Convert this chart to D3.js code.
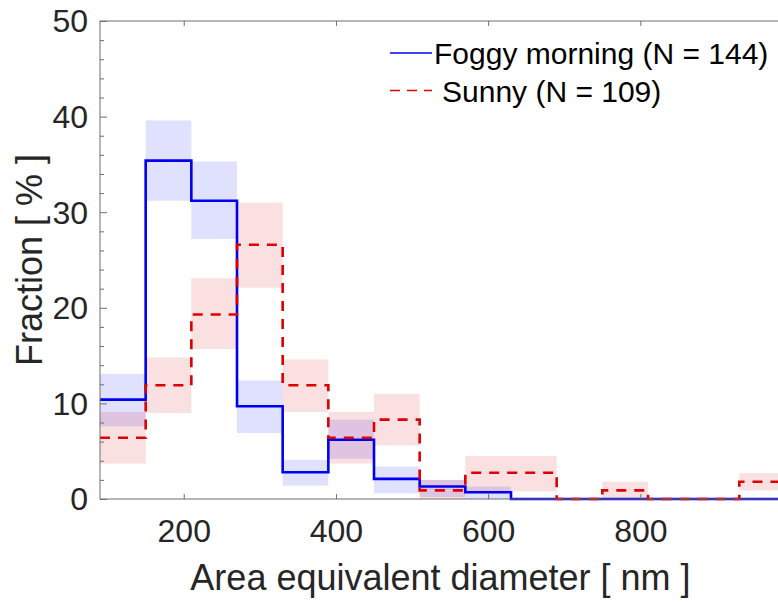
<!DOCTYPE html>
<html>
<head>
<meta charset="utf-8">
<script src="https://cdn.jsdelivr.net/npm/d3@7"></script>
<style>
	body { margin: 0; background: #fff; }
	svg { display: block; font-family: "Liberation Sans", Arial, sans-serif; }
	.axis text { fill: #262626; font-size: 32px; }
	.axis path, .axis line { stroke: #6e6e6e; stroke-width: 1; }
</style>
</head>
<body>
<svg id="chart" width="778" height="602"></svg>
<script>
// bin edges (nm), 60 nm wide
var binEdges = [90, 150, 210, 270, 330, 390, 450, 510, 570, 630, 690, 750, 810, 870, 930, 990];

// Foggy morning (N = 144), fraction in %
var foggy = [10.4, 35.4, 31.2, 9.7, 2.8, 6.2, 2.1, 1.3, 0.7, 0, 0, 0, 0, 0, 0];
var foggyLow = [7.6, 31.2, 27.2, 6.9, 1.4, 4.2, 0.6, 0.2, 0, 0, 0, 0, 0, 0, 0];
var foggyHigh = [13.1, 39.6, 35.3, 12.4, 4.1, 8.3, 3.4, 2.0, 1.3, 0, 0, 0, 0, 0, 0];

// Sunny (N = 109), fraction in %
var sunny = [6.4, 11.9, 19.3, 26.6, 11.9, 6.4, 8.3, 0.9, 2.75, 2.75, 0, 0.9, 0, 0, 1.8];
var sunnyLow = [3.7, 9.0, 15.7, 22.1, 9.1, 3.7, 5.6, 0, 0.8, 0.8, 0, 0, 0, 0, 0.9];
var sunnyHigh = [9.1, 14.8, 23.1, 31.0, 14.6, 9.1, 11.0, 2.0, 4.5, 4.5, 0, 1.8, 0, 0, 2.7];

var xTicks = [200, 400, 600, 800];
var yTicks = [0, 10, 20, 30, 40, 50];
var yMinorTicks = d3.range(0, 51, 2).filter(function(d) { return d % 10 !== 0; });

var legendLabels = ['Foggy morning (N = 144)', 'Sunny (N = 109)'];

var margin = {left: 100, top: 21, right: 785, bottom: 499};
var blue = '#0000f0', red = '#dd0000';

var svg = d3.select('#chart');

var x = d3.scaleLinear().domain([90, 990]).range([margin.left, margin.right]);
var y = d3.scaleLinear().domain([0, 50]).range([margin.bottom, margin.top]);

//error bands, one rect per bin
function bands(low, high, color) {
	svg.append('g').selectAll('rect')
		.data(low.map(function(d, i) { return {i: i, lo: d, hi: high[i]}; })
			.filter(function(d) { return d.hi > d.lo; }))
		.enter().append('rect')
		.attr('x', function(d) { return x(binEdges[d.i]); })
		.attr('width', function(d) { return x(binEdges[d.i + 1]) - x(binEdges[d.i]); })
		.attr('y', function(d) { return y(d.hi); })
		.attr('height', function(d) { return y(d.lo) - y(d.hi); })
		.attr('fill', color)
		.attr('fill-opacity', 0.12);
}
bands(foggyLow, foggyHigh, '#0000ff');
bands(sunnyLow, sunnyHigh, '#d40000');

//stairs
var stair = d3.line()
	.x(function(d) { return x(d[0]); })
	.y(function(d) { return y(d[1]); })
	.curve(d3.curveStepAfter);

function stairPoints(vals) {
	var pts = vals.map(function(v, i) { return [binEdges[i], v]; });
	pts.push([binEdges[binEdges.length - 1], vals[vals.length - 1]]);
	return pts;
}

svg.append('path')
	.attr('d', stair(stairPoints(foggy)))
	.attr('fill', 'none')
	.attr('stroke', blue)
	.attr('stroke-width', 2.6);

svg.append('path')
	.attr('d', stair(stairPoints(sunny)))
	.attr('fill', 'none')
	.attr('stroke', red)
	.attr('stroke-width', 2.6)
	.attr('stroke-dasharray', '10,8');

//axes, ticks pointing inward on all four sides
svg.append('g').attr('class', 'axis')
	.attr('transform', 'translate(0,' + margin.bottom + ')')
	.call(d3.axisBottom(x).tickValues(xTicks).tickSize(-5).tickPadding(20).tickFormat(d3.format('d')))
	.call(function(g) { g.select('.domain').attr('d', 'M' + margin.left + ',0H' + margin.right); });

svg.append('g').attr('class', 'axis')
	.attr('transform', 'translate(0,' + margin.top + ')')
	.call(d3.axisTop(x).tickValues(xTicks).tickSize(-5).tickFormat(''))
	.call(function(g) { g.select('.domain').attr('d', 'M' + margin.left + ',0H' + margin.right); });

svg.append('g').attr('class', 'axis')
	.attr('transform', 'translate(' + margin.left + ',0)')
	.call(d3.axisLeft(y).tickValues(yTicks).tickSize(-7).tickPadding(12))
	.call(function(g) { g.select('.domain').attr('d', 'M0,' + margin.top + 'V' + margin.bottom); });

svg.append('g').attr('class', 'axis')
	.attr('transform', 'translate(' + margin.left + ',0)')
	.call(d3.axisLeft(y).tickValues(yMinorTicks).tickSize(-4).tickFormat(''))
	.call(function(g) { g.select('.domain').remove(); });

svg.append('g').attr('class', 'axis')
	.attr('transform', 'translate(' + margin.right + ',0)')
	.call(d3.axisRight(y).tickValues(yTicks).tickSize(-7).tickFormat(''))
	.call(function(g) { g.select('.domain').attr('d', 'M0,' + margin.top + 'V' + margin.bottom); });

svg.append('g').attr('class', 'axis')
	.attr('transform', 'translate(' + margin.right + ',0)')
	.call(d3.axisRight(y).tickValues(yMinorTicks).tickSize(-4).tickFormat(''))
	.call(function(g) { g.select('.domain').remove(); });

svg.selectAll('.axis .tick text').each(function() {
	var t = d3.select(this);
	if (t.attr('y') !== null && +t.attr('y') > 0) t.attr('dy', '0.71em');
	else t.attr('dy', '0.34em');
});

//axis labels
svg.append('text')
	.attr('x', (margin.left + margin.right) / 2 - 2)
	.attr('y', 590)
	.attr('text-anchor', 'middle')
	.style('font-size', '36px')
	.style('fill', '#262626')
	.text('Area equivalent diameter [ nm ]');

svg.append('text')
	.attr('transform', 'translate(42,' + (margin.top + margin.bottom) / 2 + ') rotate(-90)')
	.attr('text-anchor', 'middle')
	.style('font-size', '36px')
	.style('fill', '#262626')
	.text('Fraction [ % ]');

//legend
var legend = svg.append('g');
legend.append('line')
	.attr('x1', 390).attr('x2', 432).attr('y1', 53).attr('y2', 53)
	.attr('stroke', blue).attr('stroke-width', 1.5);
legend.append('line')
	.attr('x1', 390).attr('x2', 432).attr('y1', 90.5).attr('y2', 90.5)
	.attr('stroke', red).attr('stroke-width', 1.5)
	.attr('stroke-dasharray', '10,7');
legend.append('text')
	.attr('x', 434).attr('y', 63.5)
	.style('font-size', '30px').style('fill', '#000')
	.text(legendLabels[0]);
legend.append('text')
	.attr('x', 442).attr('y', 101.5)
	.style('font-size', '30px').style('fill', '#000')
	.text(legendLabels[1]);
</script>
</body>
</html>
